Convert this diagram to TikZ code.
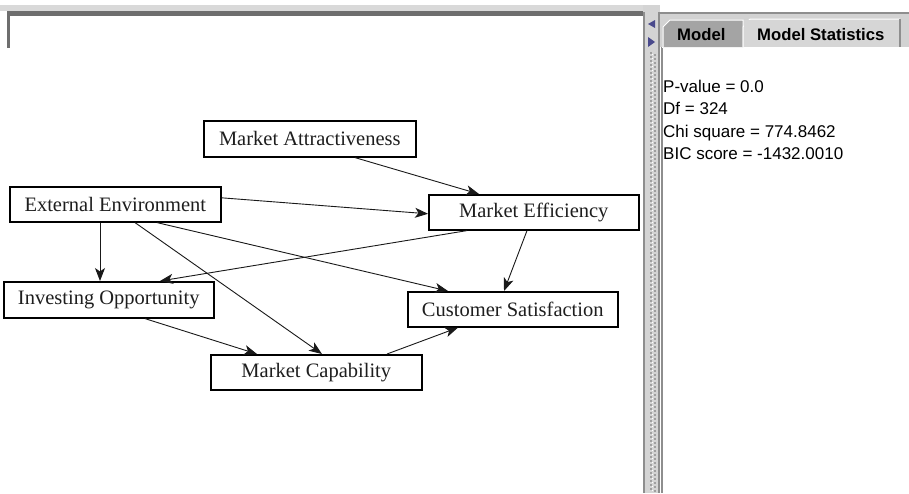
\documentclass[tikz,border=0pt]{standalone}
\usepackage{fontspec}
\setmainfont{Liberation Serif}
\newfontfamily\guifont{Liberation Sans}
\usetikzlibrary{arrows.meta}
\definecolor{bandlight}{HTML}{D9D9D9}
\definecolor{banddark}{HTML}{6E6E6E}
\definecolor{splitbg}{HTML}{D4D4D4}
\definecolor{splitline}{HTML}{8E8E8E}
\definecolor{tabdark}{HTML}{A4A4A4}
\definecolor{tablight}{HTML}{D6D6D6}
\definecolor{panelbg}{HTML}{D2D2D2}
\definecolor{arrowblue}{HTML}{4A4A8C}
\definecolor{boxtext}{HTML}{1E1E1E}
\begin{document}
\begin{tikzpicture}[x=1pt,y=-1pt,
  box/.style={draw=black, line width=1.6pt, fill=white, anchor=north west,
    inner sep=0pt, text=boxtext, font=\fontsize{20.5}{24}\selectfont},
  arr/.style={draw=black!90, line width=0.9pt,
    -{Stealth[length=13pt,width=10pt,inset=3.5pt]}},
  stat/.style={anchor=base west, inner sep=0pt, text=black,
    font=\guifont\fontsize{17}{19}\selectfont},
  tabtxt/.style={anchor=base west, inner sep=0pt, text=black,
    font=\guifont\bfseries\fontsize{16.7}{19}\selectfont}]
\useasboundingbox (0,0) rectangle (909,493);
\fill[white] (0,0) rectangle (909,493);
% ---- left panel frame
\fill[bandlight] (0,5) rectangle (645,11);
\fill[banddark] (7,11) rectangle (645,16);
\fill[banddark] (7,11) rectangle (9.5,48);
% ---- splitter
\fill[splitbg] (643,5) rectangle (660,493);
\fill[splitline] (643,12) rectangle (645,493);
\fill[splitline] (658,12) rectangle (660,493);
\fill[arrowblue] (648,24) -- (655,20) -- (655,28) -- cycle;
\fill[arrowblue] (648,37) -- (655,42) -- (648,47) -- cycle;
\foreach \yy in {52,56,...,490} {
  \fill[gray!75] (650,\yy) rectangle ++(1.5,1.5);
  \fill[gray!75] (654,\yy+2) rectangle ++(1.5,1.5);
  \fill[white] (651.5,\yy+1.5) rectangle ++(1,1);
}
% ---- right panel
\fill[panelbg] (660,12) rectangle (909,47);
\fill[splitline] (660,12) rectangle (909,14);
\fill[white] (662,47) rectangle (909,493);
\fill[splitline] (661,47) rectangle (662.5,493);
\draw[white, line width=1pt] (662,47.5) -- (909,47.5);
% tabs
\filldraw[fill=tabdark, draw=white, line width=1pt]
  (663,47) -- (663,27) -- (670,20) -- (743,20) -- (743,47);
\filldraw[fill=tablight, draw=white, line width=1pt]
  (743,47) -- (743,27) -- (750,19) -- (900,19);
\fill[tablight] (743.5,19.5) rectangle (899.5,47);
\fill[tablight] (744,27) -- (750.5,20) -- (750.5,27) -- cycle;
\draw[splitline, line width=1.2pt] (900,19) -- (900,47);
\node[tabtxt] (tm) at (677,40) {Model};
\node[tabtxt] (ts) at (757,40) {Model Statistics};
% statistics
\node[stat] (s1) at (663,92) {P-value = 0.0};
\node[stat] (s2) at (663,114.5) {Df = 324};
\node[stat] (s3) at (663,137) {Chi square = 774.8462};
\node[stat] (s4) at (663,159.5) {BIC score = -1432.0010};
% ---- diagram
\node[box, minimum width=212pt, minimum height=36pt] (ma) at (203,120) {Market Attractiveness};
\node[box, minimum width=211pt, minimum height=35pt] (ee) at (9,186) {External Environment};
\node[box, minimum width=210pt, minimum height=35pt] (me) at (428,194) {Market Efficiency};
\node[box, minimum width=210pt, minimum height=35pt] (cs) at (407,291) {Customer Satisfaction};
\node[box, minimum width=210pt, minimum height=36pt] (io) at (3,281) {Investing Opportunity};
\node[box, minimum width=211pt, minimum height=35pt] (mc) at (210,354) {Market Capability};
\draw[arr] ([xshift=152pt]ma.south west) -- ([xshift=51pt]me.north west);
\draw[arr] ([yshift=6.5pt]ee.east) -- ([yshift=-1.5pt]me.west);
\draw[arr] ([xshift=91pt]ee.south west) -- ([xshift=97pt]io.north west);
\draw[arr] ([xshift=126pt]ee.south west) -- ([xshift=112pt]mc.north west);
\draw[arr] ([xshift=148pt]ee.south west) -- ([xshift=41pt]cs.north west);
\draw[arr] ([xshift=39pt]me.south west) -- ([xshift=157pt]io.north west);
\draw[arr] ([xshift=99pt]me.south west) -- ([xshift=97pt]cs.north west);
\draw[arr] ([xshift=142pt]io.south west) -- ([xshift=47pt]mc.north west);
\draw[arr] ([xshift=177pt]mc.north west) -- ([xshift=51pt]cs.south west);
\end{tikzpicture}
\end{document}
